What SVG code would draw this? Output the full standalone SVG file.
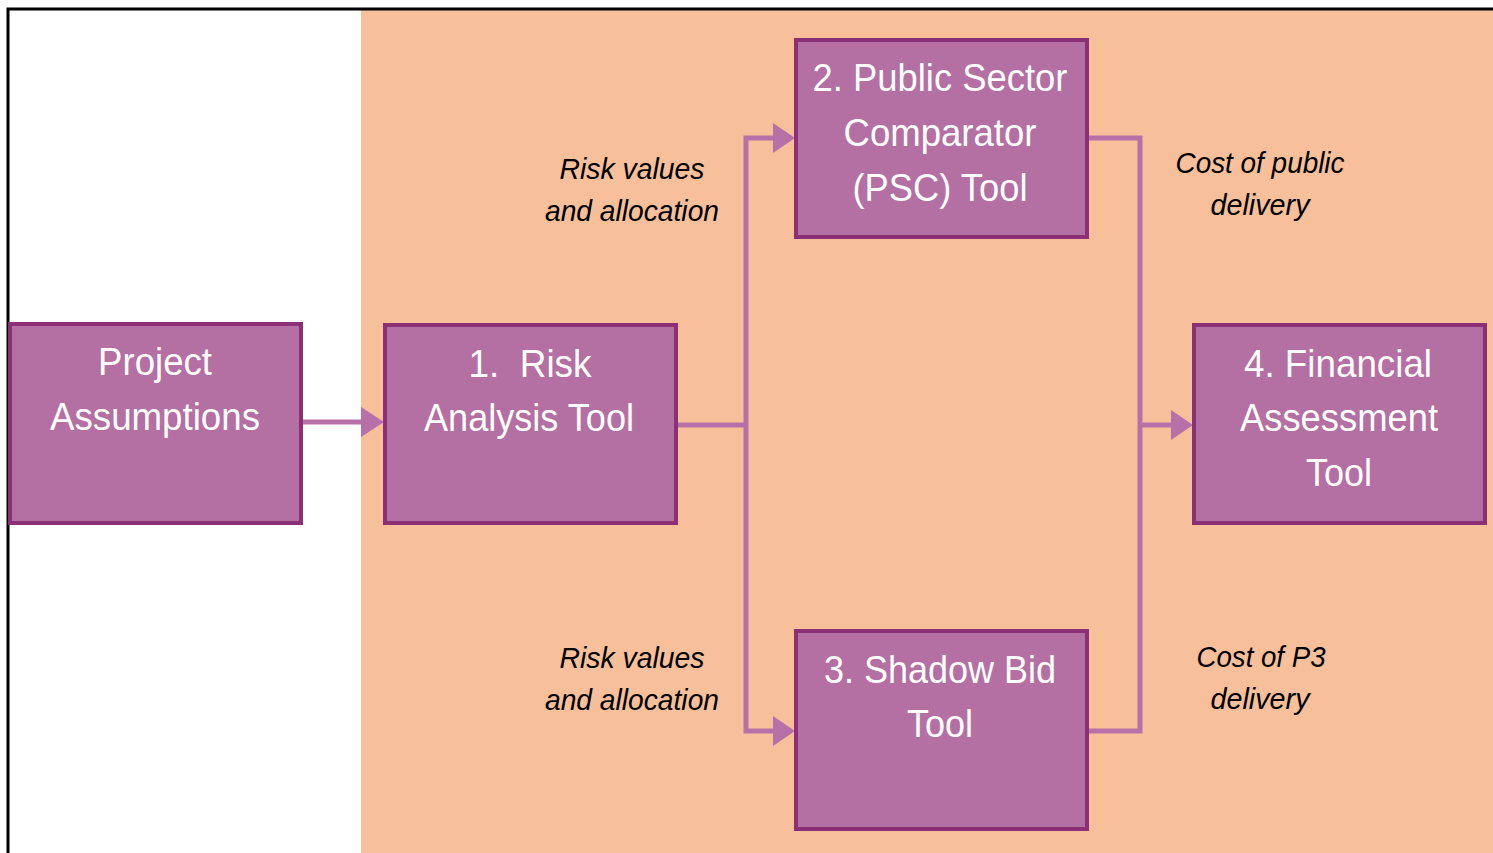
<svg xmlns="http://www.w3.org/2000/svg" width="1493" height="853" viewBox="0 0 1493 853">
  <style>
    .node rect { fill: #B46FA3; stroke: #8B3076; stroke-width: 4; }
    .node text { fill: #FFFFFF; font-family: "Liberation Sans Narrow", "Liberation Sans", Arial, sans-serif; font-size: 39px; text-anchor: middle; }
    .label { fill: #000000; font-family: "Liberation Sans Narrow", "Liberation Sans", Arial, sans-serif; font-size: 30px; font-style: italic; text-anchor: middle; }
    .conn { fill: none; stroke: #B870A8; stroke-width: 5; stroke-linejoin: miter; }
    .head { fill: #B870A8; }
  </style>

  <!-- page background and frame -->
  <rect x="0" y="0" width="1493" height="853" fill="#FFFFFF"/>
  <rect x="361" y="9" width="1132" height="844" fill="#F8BF9B"/>
  <path d="M8,853 V9 H1493" fill="none" stroke="#000000" stroke-width="3"/>

  <!-- connectors -->
  <g id="connectors">
    <path class="conn" d="M301,422 H364"/>
    <polygon class="head" points="361,407 384,422 361,437"/>

    <path class="conn" d="M676,425 H746"/>
    <path class="conn" d="M776,138 H746 V731 H776"/>
    <polygon class="head" points="773,123 795,138 773,153"/>
    <polygon class="head" points="773,716 795,731 773,746"/>

    <path class="conn" d="M1087,138 H1140 V731 H1087"/>
    <path class="conn" d="M1140,425 H1174"/>
    <polygon class="head" points="1171,410 1193,425 1171,440"/>
  </g>

  <!-- edge labels -->
  <g id="labels">
    <text class="label" x="632" y="179" textLength="145" lengthAdjust="spacingAndGlyphs">Risk values</text>
    <text class="label" x="632" y="221" textLength="174" lengthAdjust="spacingAndGlyphs">and allocation</text>
    <text class="label" x="632" y="668" textLength="145" lengthAdjust="spacingAndGlyphs">Risk values</text>
    <text class="label" x="632" y="710" textLength="174" lengthAdjust="spacingAndGlyphs">and allocation</text>
    <text class="label" x="1260" y="173" textLength="169" lengthAdjust="spacingAndGlyphs">Cost of public</text>
    <text class="label" x="1260" y="215" textLength="99" lengthAdjust="spacingAndGlyphs">delivery</text>
    <text class="label" x="1261" y="667" textLength="129" lengthAdjust="spacingAndGlyphs">Cost of P3</text>
    <text class="label" x="1260" y="709" textLength="99" lengthAdjust="spacingAndGlyphs">delivery</text>
  </g>

  <g id="project-assumptions" class="node">
    <rect x="10" y="324" width="291" height="199"/>
    <text x="155" y="375" textLength="114" lengthAdjust="spacingAndGlyphs">Project</text>
    <text x="155" y="430" textLength="210" lengthAdjust="spacingAndGlyphs">Assumptions</text>
  </g>

  <g id="risk-analysis" class="node">
    <rect x="385" y="325" width="291" height="198"/>
    <text x="530" y="377" textLength="123" lengthAdjust="spacingAndGlyphs" xml:space="preserve">1.  Risk</text>
    <text x="529" y="431" textLength="210" lengthAdjust="spacingAndGlyphs">Analysis Tool</text>
  </g>

  <g id="psc-tool" class="node">
    <rect x="796" y="40" width="291" height="197"/>
    <text x="940" y="91" textLength="255" lengthAdjust="spacingAndGlyphs">2. Public Sector</text>
    <text x="940" y="146" textLength="193" lengthAdjust="spacingAndGlyphs">Comparator</text>
    <text x="940" y="201" textLength="175" lengthAdjust="spacingAndGlyphs">(PSC) Tool</text>
  </g>

  <g id="shadow-bid" class="node">
    <rect x="796" y="631" width="291" height="198"/>
    <text x="940" y="683" textLength="232" lengthAdjust="spacingAndGlyphs">3. Shadow Bid</text>
    <text x="940" y="737" textLength="66" lengthAdjust="spacingAndGlyphs">Tool</text>
  </g>

  <g id="financial-assessment" class="node">
    <rect x="1194" y="325" width="291" height="198"/>
    <text x="1338" y="377" textLength="188" lengthAdjust="spacingAndGlyphs">4. Financial</text>
    <text x="1339" y="431" textLength="198" lengthAdjust="spacingAndGlyphs">Assessment</text>
    <text x="1339" y="486" textLength="66" lengthAdjust="spacingAndGlyphs">Tool</text>
  </g>
</svg>
